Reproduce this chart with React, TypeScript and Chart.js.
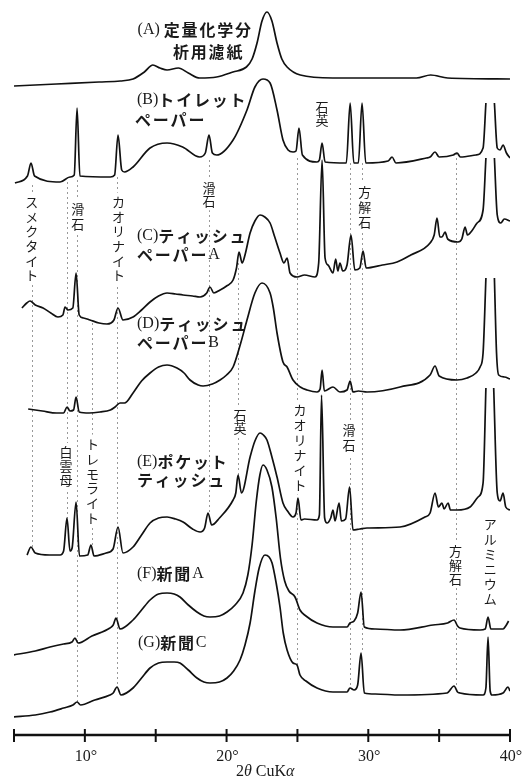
import React, { useEffect, useRef } from 'react';
import { Chart, registerables } from 'chart.js';

Chart.register(...registerables);

type Pt = [number, number | null];

// 2θ (deg) vs stacked intensity (offset already included)
const seriesA: Pt[] = [
  [5.0, 647], [8.0, 649], [11.0, 651], [12.5, 652], [13.4, 654], [14.2, 661], [14.8, 668], [15.3, 665], [15.8, 663],
  [16.6, 665], [17.3, 660], [18.1, 655], [19.3, 656], [20.45, 661], [21.4, 666], [21.8, 674], [22.15, 690],
  [22.5, 712], [22.85, 721], [23.2, 712], [23.56, 690], [23.9, 674], [24.27, 666], [25.2, 658], [27.5, 655],
  [30.0, 655], [33.4, 655], [34.4, 658], [35.6, 655], [40.0, 654],
];

const seriesB: Pt[] = [
  [5.07, 550], [5.95, 557], [6.2, 570], [6.45, 557], [8.25, 551], [8.95, 556], [9.25, 558], [9.45, 625], [9.65, 557],
  [11.8, 556], [12.1, 558], [12.34, 598], [12.6, 563], [12.8, 561], [13.4, 566], [14.6, 585], [15.8, 590],
  [16.9, 586], [18.1, 576], [18.5, 580], [18.76, 598], [19.0, 580], [19.3, 578], [20.46, 593], [21.44, 623],
  [22.0, 646], [22.57, 654], [23.07, 650], [23.56, 623], [23.98, 593], [24.34, 583], [24.69, 581], [24.9, 582],
  [25.11, 605], [25.35, 578], [26.38, 571], [26.55, 573], [26.74, 590], [26.95, 571], [28.45, 570], [28.72, 630],
  [28.98, 570], [29.3, 570], [29.56, 630], [29.82, 570], [31.4, 572], [31.68, 576], [31.95, 570], [34.1, 575],
  [34.36, 576], [34.71, 581], [35.0, 576], [36.0, 578], [36.26, 580], [36.5, 576], [37.6, 578], [38.1, 585],
  [38.3, 630], [38.6, null], [38.9, 630], [39.1, 585], [39.3, 583], [39.51, 588], [39.75, 580], [40.0, 575],
];

const seriesC: Pt[] = [
  [5.56, 425], [5.9, 430], [6.13, 432], [6.5, 428], [7.05, 425], [7.6, 420], [8.1, 416], [8.45, 418], [8.6, 426],
  [8.81, 423], [9.15, 425], [9.38, 460], [9.6, 418], [9.9, 415], [10.36, 413], [11.0, 410], [11.56, 409],
  [12.05, 413], [12.34, 425], [12.69, 413], [13.4, 416], [14.0, 423], [14.6, 431], [15.2, 437], [15.8, 440],
  [16.4, 439], [16.93, 438], [17.6, 437], [18.13, 436], [18.6, 440], [18.83, 446], [19.1, 440], [19.54, 443],
  [20.0, 447], [20.46, 453], [20.7, 465], [20.88, 481], [21.1, 470], [21.3, 478], [21.66, 500], [22.0, 512],
  [22.36, 518], [22.7, 516], [23.07, 510], [23.4, 496], [23.77, 480], [24.05, 470], [24.27, 475], [24.48, 460],
  [24.97, 456], [25.5, 458], [26.24, 456], [26.5, 470], [26.74, 573], [26.95, 475], [27.16, 468], [27.51, 460],
  [27.7, 474], [27.85, 462], [28.0, 470], [28.2, 462], [28.5, 468], [28.78, 498], [29.05, 463], [29.4, 465],
  [29.63, 482], [29.85, 465], [31.0, 468], [32.03, 471], [33.0, 478], [34.36, 490], [34.65, 498], [34.85, 515],
  [35.05, 496], [35.2, 496], [35.42, 501], [35.6, 494], [36.33, 491], [36.6, 494], [36.83, 506], [37.0, 498],
  [37.3, 502], [37.68, 510], [38.1, 523], [38.3, 575], [38.6, null], [38.9, 575], [39.1, 518], [39.35, 510],
  [39.6, 514], [40.0, 512],
];

const seriesD: Pt[] = [
  [6.0, 324], [7.0, 322], [8.0, 320], [8.5, 320], [8.74, 326], [8.95, 322], [9.2, 323], [9.38, 336], [9.6, 321],
  [10.3, 320], [11.07, 321], [11.8, 323], [12.13, 326], [12.48, 330], [12.8, 330], [13.4, 340], [14.0, 352],
  [14.6, 360], [15.2, 366], [15.8, 368], [16.5, 365], [17.0, 360], [17.42, 353], [18.0, 348], [18.34, 347],
  [19.0, 349], [19.54, 353], [20.0, 358], [20.46, 366], [21.0, 390], [21.44, 413], [22.0, 440], [22.5, 450],
  [23.07, 440], [23.3, 425], [23.56, 400], [23.98, 371], [24.27, 366], [24.69, 353], [25.2, 346], [25.68, 343],
  [26.38, 341], [26.6, 344], [26.74, 363], [26.9, 342], [27.51, 346], [28.0, 341], [28.5, 343], [28.72, 352],
  [28.92, 341], [29.3, 342], [29.91, 341], [32.24, 346], [34.36, 358], [34.71, 367], [35.0, 357], [36.26, 353],
  [36.97, 355], [37.6, 360], [37.89, 366], [38.1, 380], [38.3, 455], [38.6, null], [38.9, 455], [39.05, 380],
  [39.2, 358], [39.6, 356], [40.0, 354],
];

const seriesE: Pt[] = [
  [5.92, 178], [6.2, 186], [6.5, 180], [7.5, 178], [8.25, 178], [8.5, 182], [8.74, 215], [8.95, 182], [9.1, 185],
  [9.38, 231], [9.62, 177], [10.2, 178], [10.43, 188], [10.65, 177], [11.5, 180], [11.99, 184], [12.34, 206],
  [12.69, 180], [13.4, 186], [14.0, 198], [14.6, 210], [15.2, 215], [15.8, 216], [16.4, 214], [16.93, 211],
  [17.6, 204], [18.13, 201], [18.45, 205], [18.69, 220], [18.95, 208], [19.5, 215], [20.46, 233], [20.65, 240],
  [20.81, 258], [21.05, 240], [21.66, 276], [22.0, 292], [22.36, 300], [22.6, 298], [22.85, 293], [23.2, 276],
  [23.56, 256], [23.98, 230], [24.3, 222], [24.69, 216], [24.9, 220], [25.04, 235], [25.25, 213], [25.5, 214],
  [26.38, 213], [26.55, 218], [26.7, 338], [26.92, 215], [27.09, 210], [27.35, 215], [27.51, 223], [27.65, 212],
  [27.94, 230], [28.1, 212], [28.4, 214], [28.68, 246], [28.92, 203], [29.4, 204], [29.91, 205], [32.24, 206],
  [34.0, 216], [34.36, 220], [34.71, 240], [34.95, 226], [35.2, 230], [35.35, 224], [35.63, 230], [35.8, 223],
  [36.26, 223], [37.18, 226], [37.75, 236], [38.1, 250], [38.3, 345], [38.6, null], [38.85, 345], [39.1, 240],
  [39.3, 232], [39.51, 240], [39.7, 226], [40.0, 223],
];

const seriesF: Pt[] = [
  [4.93, 78], [6.5, 82], [7.54, 86], [8.5, 89], [9.09, 91], [9.3, 95], [9.52, 90], [10.5, 97], [11.77, 105],
  [12.0, 108], [12.2, 115], [12.48, 104], [13.4, 113], [14.0, 123], [14.6, 133], [15.2, 139], [15.8, 140],
  [16.3, 139], [16.71, 136], [17.3, 128], [17.91, 121], [18.4, 117], [18.83, 116], [19.5, 117], [20.03, 121],
  [20.6, 128], [21.16, 140], [21.5, 158], [21.8, 188], [22.1, 232], [22.35, 258], [22.57, 268], [22.85, 263],
  [23.2, 246], [23.5, 215], [23.8, 175], [24.1, 152], [24.4, 142], [24.83, 136], [25.18, 123], [25.6, 117],
  [26.38, 110], [27.51, 106], [28.5, 106], [28.71, 110], [29.0, 112], [29.25, 120], [29.49, 141], [29.72, 106],
  [30.5, 104], [32.24, 103], [34.57, 108], [35.6, 110], [36.05, 113], [36.3, 107], [36.47, 105], [37.89, 103],
  [38.25, 104], [38.45, 116], [38.65, 104], [39.51, 104], [39.7, 107], [39.9, 112],
];

const seriesG: Pt[] = [
  [4.93, 16], [6.5, 18], [7.54, 21], [8.5, 25], [9.16, 28], [9.45, 31], [9.7, 28], [10.7, 33], [11.77, 38],
  [12.0, 40], [12.27, 46], [12.55, 38], [13.4, 45], [14.0, 55], [14.6, 65], [15.2, 70], [15.8, 71], [16.3, 71],
  [16.71, 70], [17.3, 63], [17.91, 55], [18.4, 51], [18.83, 50], [19.5, 51], [20.03, 55], [20.5, 62], [20.95, 73],
  [21.3, 88], [21.66, 110], [22.0, 142], [22.3, 165], [22.71, 178], [23.0, 176], [23.21, 170], [23.5, 150],
  [23.77, 126], [24.0, 100], [24.27, 83], [24.69, 70], [24.97, 68], [25.18, 58], [25.6, 52], [26.38, 45],
  [27.51, 41], [28.5, 41], [28.71, 45], [29.0, 43], [29.25, 48], [29.49, 80], [29.72, 40], [30.5, 39],
  [32.24, 38], [35.56, 40], [36.05, 47], [36.3, 41], [36.47, 40], [38.1, 38], [38.3, 45], [38.45, 96],
  [38.6, 42], [38.73, 38], [39.51, 40], [39.86, 46], [40.0, 42],
];

const allSeries: Pt[][] = [seriesA, seriesB, seriesC, seriesD, seriesE, seriesF, seriesG];

// reference (dotted) peak positions: [2θ, top, bottom]
const refLines: [number, number, number][] = [
  [6.25, 548, 186], [8.74, 551, 215], [9.42, 553, 30], [10.5, 410, 188], [12.3, 556, 46],
  [18.76, 573, 220], [20.82, 470, 258], [24.97, 575, 68], [28.72, 570, 45], [29.55, 570, 80], [36.2, 580, 47],
];

// vertical mineral labels: [text, 2θ, first-char height, pitch]
const mineralLabels: [string, number, number, number][] = [
  ['スメクタイト', 6.25, 531, 14.7],
  ['滑石', 9.5, 524, 15],
  ['カオリナイト', 12.38, 531, 14.7],
  ['白雲母', 8.67, 281, 14],
  ['トレモライト', 10.54, 289, 14.8],
  ['滑石', 18.76, 545, 13.5],
  ['石英', 20.95, 318, 13],
  ['石英', 26.74, 626, 13],
  ['カオリナイト', 25.18, 323, 15],
  ['滑石', 28.64, 303, 15.5],
  ['方解石', 29.75, 541, 15],
  ['方解石', 36.15, 182, 14],
  ['アルミニウム', 38.6, 209, 15],
];

// sample labels: [text, 2θ (left), height]
const sampleLabels: [string, number, number][] = [
  ['(A) 定量化学分', 13.72, 703.5],
  ['析用濾紙', 16.22, 681.5],
  ['(B)トイレット', 13.68, 633],
  ['ペーパー', 13.54, 613],
  ['(C)ティッシュ', 13.68, 497],
  ['ペーパーA', 13.68, 478],
  ['(D)ティッシュ', 13.68, 409],
  ['ペーパーB', 13.68, 390],
  ['(E)ポケット', 13.68, 271],
  ['ティッシュ', 13.68, 253],
  ['(F)新聞A', 13.68, 159],
  ['(G)新聞C', 13.75, 90],
];

const majorTicks = [5, 10, 15, 20, 25, 30, 35, 40];
const labeledTicks = [10, 20, 30, 40];

const SERIF = '"Liberation Serif", "Times New Roman", serif';
const CJK = '"Noto Sans CJK JP", sans-serif';

function drawMixed(ctx: CanvasRenderingContext2D, text: string, x: number, y: number) {
  let cx = x;
  for (const ch of Array.from(text)) {
    const ascii = ch.charCodeAt(0) < 128;
    ctx.font = ascii ? `16px ${SERIF}` : `bold 16px ${CJK}`;
    ctx.fillText(ch, cx, y);
    cx += ctx.measureText(ch).width + (ascii ? 0 : 1.8);
  }
}

const overlayPlugin = {
  id: 'overlay',
  beforeDatasetsDraw(chart: any) {
    const { ctx } = chart;
    const xs = chart.scales.x;
    const ys = chart.scales.y;
    ctx.save();
    ctx.strokeStyle = '#999';
    ctx.lineWidth = 1;
    ctx.setLineDash([2, 3]);
    refLines.forEach(([d, top, bot]) => {
      const px = Math.round(xs.getPixelForValue(d)) + 0.5;
      ctx.beginPath();
      ctx.moveTo(px, ys.getPixelForValue(top));
      ctx.lineTo(px, ys.getPixelForValue(bot));
      ctx.stroke();
    });
    ctx.setLineDash([]);
    ctx.fillStyle = '#fff';
    mineralLabels.forEach(([t, d, h, pitch]) => {
      const px = xs.getPixelForValue(d);
      const py = ys.getPixelForValue(h);
      const n = Array.from(t).length;
      ctx.fillRect(px - 8, py - pitch / 2 - 2, 16, n * pitch + 4);
    });
    ctx.restore();
  },
  afterDatasetsDraw(chart: any) {
    const { ctx } = chart;
    const xs = chart.scales.x;
    const ys = chart.scales.y;
    ctx.save();
    ctx.fillStyle = '#1a1a1a';
    ctx.textAlign = 'center';
    ctx.textBaseline = 'middle';
    ctx.font = `13px ${CJK}`;
    mineralLabels.forEach(([t, d, h, pitch]) => {
      const px = xs.getPixelForValue(d);
      const py = ys.getPixelForValue(h);
      Array.from(t).forEach((ch, i) => ctx.fillText(ch, px, py + i * pitch));
    });
    ctx.textAlign = 'left';
    sampleLabels.forEach(([t, d, h]) => {
      drawMixed(ctx, t, xs.getPixelForValue(d), ys.getPixelForValue(h));
    });

    // x axis
    const axisY = ys.getPixelForValue(0) + 2;
    const x0 = xs.getPixelForValue(majorTicks[0]);
    const x1 = xs.getPixelForValue(majorTicks[majorTicks.length - 1]);
    ctx.strokeStyle = '#111';
    ctx.lineWidth = 2.5;
    ctx.beginPath();
    ctx.moveTo(x0 - 1, axisY);
    ctx.lineTo(x1 + 1, axisY);
    ctx.stroke();
    ctx.lineWidth = 2;
    majorTicks.forEach((t) => {
      const px = xs.getPixelForValue(t);
      ctx.beginPath();
      ctx.moveTo(px, axisY - 6);
      ctx.lineTo(px, axisY + 7);
      ctx.stroke();
    });
    ctx.textAlign = 'center';
    ctx.font = `16px ${SERIF}`;
    labeledTicks.forEach((t) => {
      ctx.fillText(`${t}°`, xs.getPixelForValue(t) + 1, axisY + 22);
    });
    // axis title: 2θ CuKα
    const parts: [string, string][] = [
      ['2', `16px ${SERIF}`], ['θ', `italic 16px ${SERIF}`], [' CuK', `16px ${SERIF}`], ['α', `italic 16px ${SERIF}`],
    ];
    let total = 0;
    parts.forEach(([s, f]) => { ctx.font = f; total += ctx.measureText(s).width; });
    let cx = xs.getPixelForValue(22.72) - total / 2;
    ctx.textAlign = 'left';
    parts.forEach(([s, f]) => {
      ctx.font = f;
      ctx.fillText(s, cx, axisY + 37);
      cx += ctx.measureText(s).width;
    });
    ctx.restore();
  },
};

export default function App() {
  const ref = useRef<HTMLCanvasElement>(null);
  useEffect(() => {
    const canvas = ref.current;
    if (!canvas) return;
    const chart = new Chart(canvas, {
      type: 'line',
      data: {
        datasets: allSeries.map((s) => ({
          data: s.map(([x, y]) => ({ x, y })),
          borderColor: '#111',
          borderWidth: 1.7,
          pointRadius: 0,
          fill: false,
          spanGaps: false,
          cubicInterpolationMode: 'monotone' as const,
        })),
      },
      options: {
        responsive: false,
        animation: false,
        devicePixelRatio: 1,
        layout: { padding: { left: 14, right: 14, top: 0, bottom: 45 } },
        plugins: { legend: { display: false }, tooltip: { enabled: false }, title: { display: false } },
        scales: {
          x: { type: 'linear', min: 5, max: 40, display: false },
          y: { type: 'linear', min: 0, max: 733, display: false },
        },
      },
      plugins: [overlayPlugin],
    });
    return () => chart.destroy();
  }, []);
  return (
    <div style={{ position: 'absolute', left: 0, top: 0, width: 524, height: 778, background: '#fff' }}>
      <canvas ref={ref} width={524} height={778} style={{ display: 'block', width: 524, height: 778 }} />
    </div>
  );
}
